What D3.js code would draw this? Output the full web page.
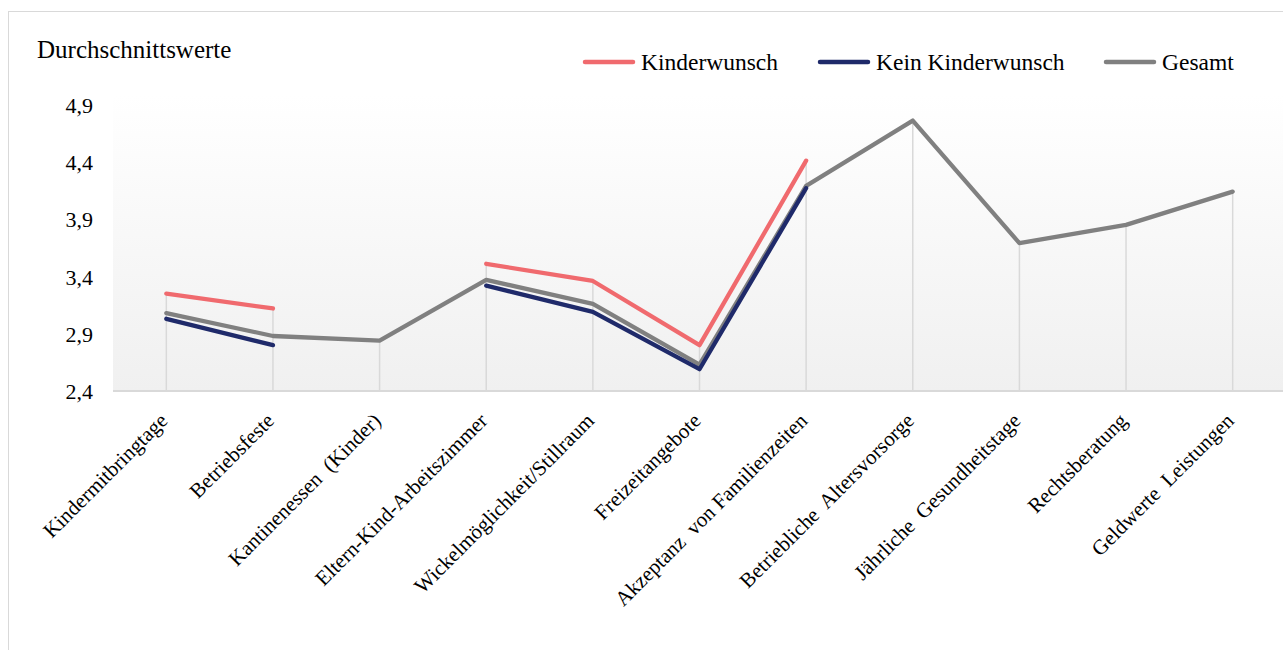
<!DOCTYPE html>
<html>
<head>
<meta charset="utf-8">
<script src="https://cdn.jsdelivr.net/npm/d3@7"></script>
<style>
  body { margin: 0; background: #fff; }
  svg text { font-family: "Liberation Serif", "Times New Roman", serif; fill: #000; }
</style>
</head>
<body>
<div id="chart"></div>
<script>
// categories and values
var categories = ["Kindermitbringtage", "Betriebsfeste", "Kantinenessen  (Kinder)", "Eltern-Kind-Arbeitszimmer",
                  "Wickelmöglichkeit/Stillraum", "Freizeitangebote", "Akzeptanz  von Familienzeiten",
                  "Betriebliche  Altersvorsorge", "Jährliche  Gesundheitstage", "Rechtsberatung", "Geldwerte  Leistungen"];
var kinderwunsch = [3.25, 3.12, null, 3.51, 3.36, 2.80, 4.41, null, null, null, null];
var keinKinderwunsch = [3.03, 2.80, null, 3.32, 3.09, 2.59, 4.17, null, null, null, null];
var gesamt = [3.08, 2.88, 2.84, 3.37, 3.16, 2.63, 4.19, 4.76, 3.69, 3.85, 4.14];
var yTicks = [2.4, 2.9, 3.4, 3.9, 4.4, 4.9];
var seriesNames = ["Kinderwunsch", "Kein Kinderwunsch", "Gesamt"];
var seriesColors = ["#f06a6e", "#1f2a6a", "#808080"];

function draw() {
    var w = 1283;
    var h = 650;

    var svg = d3.select("#chart")
                .append("svg")
                .attr("width", w)
                .attr("height", h);

    // outer frame
    svg.append("rect")
       .attr("x", 8.5).attr("y", 11.5)
       .attr("width", 1300).attr("height", 660)
       .attr("fill", "#fff")
       .attr("stroke", "#d9d9d9")
       .attr("stroke-width", 1);

    var x = d3.scalePoint().domain(categories).range([113, 1286]).padding(0.5);
    var y = d3.scaleLinear().domain([2.4, 4.9]).range([391, 104.5]);

    // plot area gradient
    var grad = svg.append("defs").append("linearGradient")
                  .attr("id", "bg").attr("x1", 0).attr("y1", 0).attr("x2", 0).attr("y2", 1);
    grad.append("stop").attr("offset", "0%").attr("stop-color", "#ffffff");
    grad.append("stop").attr("offset", "100%").attr("stop-color", "#f0f0f0");

    svg.append("rect")
       .attr("x", 113).attr("y", 95)
       .attr("width", 1286 - 113).attr("height", 391 - 95)
       .attr("fill", "url(#bg)");

    // drop lines from the highest point of each category
    var series = [kinderwunsch, keinKinderwunsch, gesamt];
    var tops = categories.map(function(c, i) {
        return d3.max(series, function(s) { return s[i]; });
    });
    svg.selectAll(".drop")
       .data(categories)
       .enter()
       .append("line")
       .attr("class", "drop")
       .attr("x1", function(d) { return x(d); })
       .attr("x2", function(d) { return x(d); })
       .attr("y1", function(d, i) { return y(tops[i]); })
       .attr("y2", y(2.4))
       .attr("stroke", "#d9d9d9")
       .attr("stroke-width", 1.5);

    // x axis line
    svg.append("line")
       .attr("x1", 113).attr("x2", 1286)
       .attr("y1", 391).attr("y2", 391)
       .attr("stroke", "#d9d9d9")
       .attr("stroke-width", 2);

    // y axis labels
    var yAxis = d3.axisLeft(y).tickValues(yTicks).tickSize(0)
                  .tickFormat(function(d) { return d3.format(".1f")(d).replace(".", ","); });
    var ya = svg.append("g").attr("transform", "translate(93,0)").call(yAxis);
    ya.select(".domain").remove();
    ya.selectAll("text")
      .attr("x", 0)
      .attr("dy", "0.35em")
      .style("font-family", '"Liberation Serif", serif')
      .style("font-size", "22px");

    // x axis labels, rotated
    var xAxis = d3.axisBottom(x).tickSize(0);
    var xa = svg.append("g").attr("transform", "translate(0,391)").call(xAxis);
    xa.select(".domain").remove();
    xa.selectAll("text")
      .attr("y", 0)
      .attr("dy", 0)
      .attr("text-anchor", "end")
      .attr("transform", "translate(2,31) rotate(-45)")
      .style("white-space", "pre")
      .style("font-family", '"Liberation Serif", serif')
      .style("font-size", "21px");

    // lines
    var line = d3.line()
                 .defined(function(d) { return d != null; })
                 .x(function(d, i) { return x(categories[i]); })
                 .y(function(d) { return y(d); });

    svg.selectAll(".series")
       .data([gesamt, keinKinderwunsch, kinderwunsch])
       .enter()
       .append("path")
       .attr("class", "series")
       .attr("d", line)
       .attr("fill", "none")
       .attr("stroke", function(d, i) { return seriesColors[2 - i]; })
       .attr("stroke-width", 4.3)
       .attr("stroke-linecap", "round")
       .attr("stroke-linejoin", "round");

    // title
    svg.append("text")
       .attr("x", 37).attr("y", 58)
       .style("font-size", "25px")
       .text("Durchschnittswerte");

    // legend
    var legendX = [585, 820, 1106];
    var lg = svg.selectAll(".legend")
                .data(seriesNames)
                .enter()
                .append("g")
                .attr("class", "legend")
                .attr("transform", function(d, i) { return "translate(" + legendX[i] + ",62)"; });
    lg.append("line")
      .attr("x1", 0).attr("x2", 48)
      .attr("stroke", function(d, i) { return seriesColors[i]; })
      .attr("stroke-width", 4.5)
      .attr("stroke-linecap", "round");
    lg.append("text")
      .attr("x", 56).attr("y", 8)
      .style("font-size", "23.5px")
      .text(function(d) { return d; });
}

window.onload = draw;
</script>
</body>
</html>
